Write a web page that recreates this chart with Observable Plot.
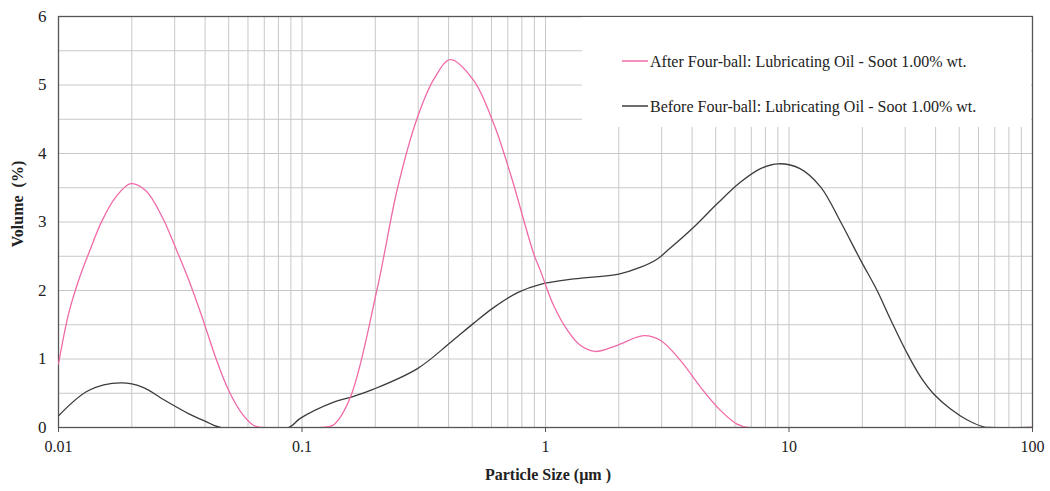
<!DOCTYPE html>
<html><head><meta charset="utf-8">
<script src="https://cdn.jsdelivr.net/npm/d3@7"></script>
<script src="https://cdn.jsdelivr.net/npm/@observablehq/plot@0.6"></script>
<style>body{margin:0;background:#fff;}</style>
</head><body><div id="chart"></div>
<script>
// Series: After Four-ball
const afterSize   = [0.01, 0.011, 0.0121, 0.0133, 0.0151, 0.01715, 0.0198, 0.0228, 0.0267, 0.0302, 0.0343, 0.0389, 0.0441, 0.05, 0.0568, 0.0634, 0.069, 0.12, 0.135, 0.158, 0.204, 0.247, 0.298, 0.35, 0.407, 0.506, 0.612, 0.718, 0.894, 0.953, 1.08, 1.23, 1.39, 1.6, 1.97, 2.53, 2.97, 3.58, 4.33, 5.23, 6.12, 6.8, 100];
const afterVolume = [0.93, 1.66, 2.15, 2.54, 3.02, 3.36, 3.56, 3.46, 3.07, 2.63, 2.15, 1.61, 1.03, 0.54, 0.2, 0.03, 0, 0, 0.04, 0.44, 2.04, 3.5, 4.53, 5.1, 5.37, 5.07, 4.44, 3.7, 2.54, 2.29, 1.78, 1.42, 1.2, 1.11, 1.2, 1.34, 1.27, 0.98, 0.59, 0.25, 0.05, 0, 0];
// Series: Before Four-ball
const beforeSize   = [0.01, 0.0133, 0.018, 0.0221, 0.0275, 0.0343, 0.0402, 0.0463, 0.088, 0.098, 0.135, 0.158, 0.197, 0.298, 0.407, 0.506, 0.612, 0.768, 0.953, 1.31, 2.0, 2.46, 2.88, 3.16, 4.05, 5.08, 6.31, 7.64, 9.06, 11.1, 13.5, 16.3, 19.7, 23.0, 26.1, 30.6, 34.7, 39.3, 46.1, 54, 63, 66, 100];
const beforeVolume = [0.17, 0.54, 0.65, 0.59, 0.39, 0.2, 0.09, 0, 0, 0.13, 0.37, 0.44, 0.56, 0.86, 1.24, 1.52, 1.75, 1.97, 2.09, 2.17, 2.24, 2.34, 2.46, 2.58, 2.92, 3.27, 3.58, 3.78, 3.85, 3.78, 3.51, 3.0, 2.44, 2.0, 1.58, 1.08, 0.74, 0.49, 0.27, 0.11, 0.01, 0, 0];

const seriesNames  = ["After Four-ball: Lubricating Oil - Soot 1.00% wt.", "Before Four-ball: Lubricating Oil - Soot 1.00% wt."];
const seriesColors = ["#f06aa8", "#3c3c3c"];
const xTicks = [0.01, 0.1, 1, 10, 100];
const yTicks = [0, 1, 2, 3, 4, 5, 6];
const xLabel = "Particle Size (µm )";
const yLabel = "Volume  (%)";

const afterData  = afterSize.map((s, i) => ({size: s, volume: afterVolume[i]}));
const beforeData = beforeSize.map((s, i) => ({size: s, volume: beforeVolume[i]}));
const minorX = d3.range(-2, 2).flatMap(e => d3.range(1, 10).map(m => +(m * Math.pow(10, e)).toPrecision(6))).concat([100]);
const gridY = d3.range(0, 6.01, 0.5);

const plot = Plot.plot({
  width: 1050, height: 491,
  marginLeft: 58, marginRight: 18, marginTop: 16, marginBottom: 64,
  style: {fontFamily: "'Liberation Serif', 'Times New Roman', serif", fontSize: "16px", color: "#222", background: "#fff"},
  x: {type: "log", domain: [0.01, 100]},
  y: {domain: [0, 6]},
  marks: [
    Plot.ruleX(minorX, {stroke: "#c8c8c8", strokeWidth: 1, strokeOpacity: 1}),
    Plot.ruleY(gridY, {stroke: "#c8c8c8", strokeWidth: 1, strokeOpacity: 1}),
    Plot.axisX(xTicks, {tickSize: 5, tickPadding: 8, tickFormat: d => String(d), label: null, stroke: "#555", fontSize: 16}),
    Plot.axisY(yTicks, {tickSize: 0, tickPadding: 12, tickFormat: d => String(d), label: null, fontSize: 17}),
    Plot.frame({stroke: "#555", strokeWidth: 1.3}),
    Plot.line(beforeData, {x: "size", y: "volume", stroke: seriesColors[1], strokeWidth: 1.3, curve: "catmull-rom", clip: true}),
    Plot.line(afterData, {x: "size", y: "volume", stroke: seriesColors[0], strokeWidth: 1.3, curve: "catmull-rom", clip: true})
  ]
});
document.getElementById("chart").appendChild(plot);

const svg = d3.select(plot);
// axis titles
svg.append("text").attr("x", 548).attr("y", 480).attr("text-anchor", "middle")
  .attr("font-weight", "bold").attr("font-size", 16).attr("fill", "#222").text(xLabel);
svg.append("text").attr("transform", "translate(23,204) rotate(-90)").attr("text-anchor", "middle")
  .attr("font-weight", "bold").attr("font-size", 16).attr("fill", "#222").text(yLabel);
// legend
const lg = svg.append("g");
lg.append("rect").attr("x", 582).attr("y", 17).attr("width", 449).attr("height", 110).attr("fill", "#fff");
seriesNames.forEach((name, i) => {
  const y = 61 + i * 45;
  lg.append("line").attr("x1", 622).attr("x2", 648).attr("y1", y).attr("y2", y)
    .attr("stroke", seriesColors[i]).attr("stroke-width", 1.5);
  lg.append("text").attr("x", 650).attr("y", y).attr("dy", "0.35em").attr("font-size", 16)
    .attr("text-anchor", "start").attr("fill", "#222").text(name);
});
</script>
</body></html>
